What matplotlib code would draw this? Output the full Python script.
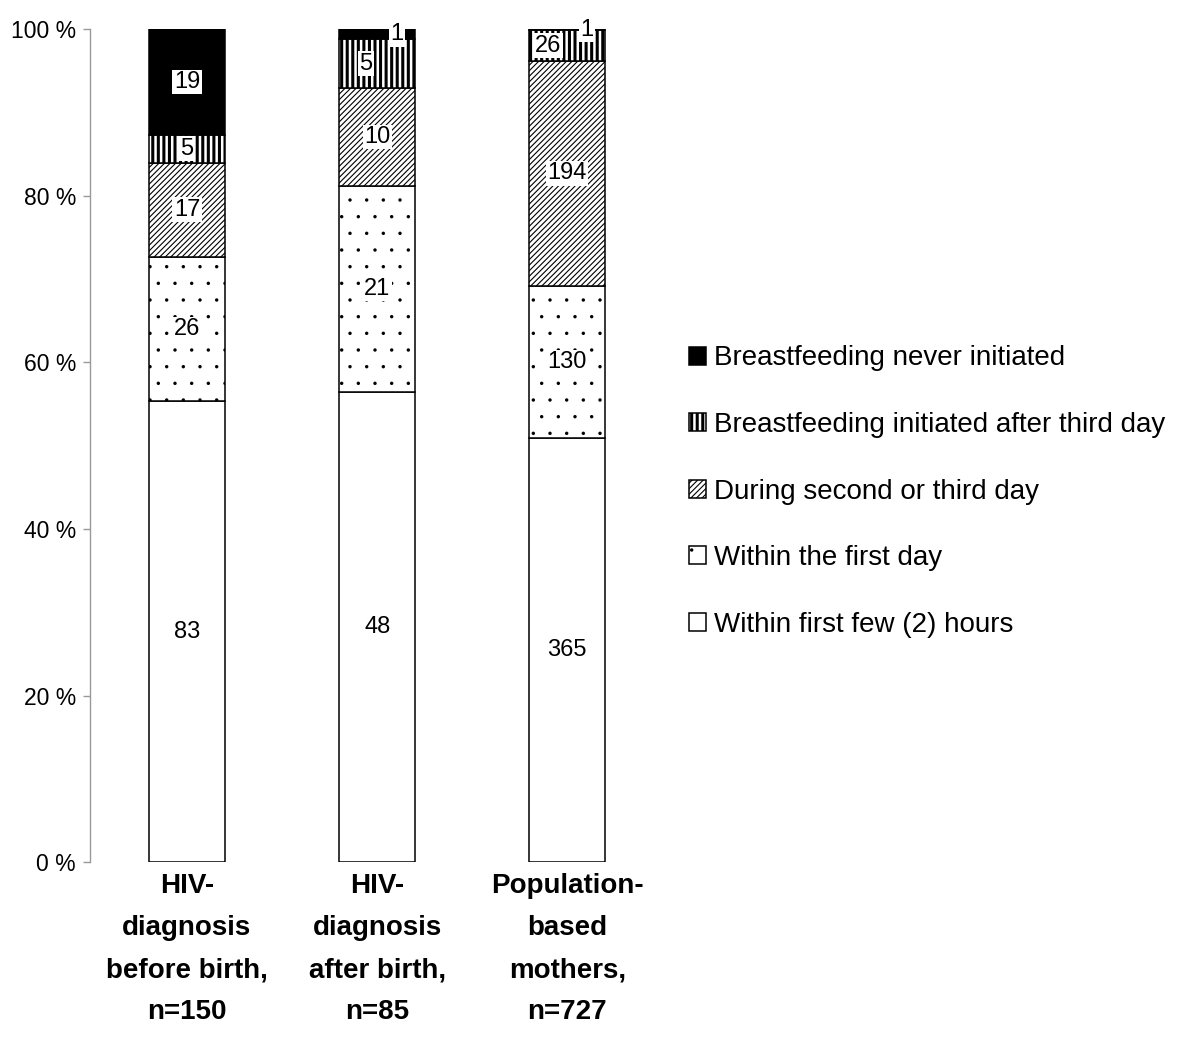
import matplotlib
matplotlib.use("Agg")
import numpy as np
import matplotlib.pyplot as plt
from matplotlib.patches import Patch

plt.rcParams["font.family"] = ["Liberation Sans", "DejaVu Sans"]
plt.rcParams["hatch.linewidth"] = 1.0

# --------------------------------------------------------------------------
# Data (counts per group, bottom segment first)
# --------------------------------------------------------------------------
groups = [
    "HIV-\ndiagnosis\nbefore birth,\nn=150",
    "HIV-\ndiagnosis\nafter birth,\nn=85",
    "Population-\nbased\nmothers,\nn=727",
]
categories = [
    "Within first few (2) hours",
    "Within the first day",
    "During second or third day",
    "Breastfeeding initiated after third day",
    "Breastfeeding never initiated",
]
first_hours = [83, 48, 365]
first_day = [26, 21, 130]
second_third = [17, 10, 194]
after_third = [5, 5, 26]
never = [19, 1, 1]

series = [first_hours, first_day, second_third, after_third, never]

# styles: (facecolor, hatch, hatch linewidth)
styles = [
    ("white", "", 1.0),
    ("white", ".", 0.05),
    ("white", "//////", 0.8),
    ("white", "|||", 2.2),
    ("black", "", 1.0),
]

# small label nudges (x offset in bar units) where Excel shifted labels
nudges = {(1, 3): -0.06, (1, 4): 0.105, (2, 3): -0.10, (2, 4): 0.105}

counts = np.array(series, dtype=float)
pct = counts / counts.sum(axis=0) * 100

fig = plt.figure(figsize=(12, 10.45), dpi=100)
ax = fig.add_axes([0.075, 0.175, 0.477, 0.797])

x = np.arange(len(groups))
width = 0.4
bottom = np.zeros(len(groups))
for si, vals in enumerate(pct):
    fc, hatch, hlw = styles[si]
    bars = ax.bar(x, vals, width, bottom=bottom, color=fc, edgecolor="black",
                  linewidth=1.1, hatch=hatch, zorder=2)
    for b in bars:
        try:
            b.set_hatch_linewidth(hlw)
        except AttributeError:
            pass
    for gi in range(len(groups)):
        cx = x[gi] + nudges.get((gi, si), 0.0)
        cy = bottom[gi] + vals[gi] / 2
        ax.text(cx, cy, f"{int(counts[si, gi])}", ha="center", va="center",
                fontsize=17, color="black", zorder=5,
                bbox=dict(facecolor="white", edgecolor="none", pad=1.0))
    bottom += vals

ax.set_xlim(-0.51, 2.5)
ax.set_ylim(0, 100)
ax.set_yticks(np.arange(0, 101, 20))
ax.set_yticklabels([f"{v} %" for v in range(0, 101, 20)], fontsize=16.5)
ax.set_xticks(x)
ax.set_xticklabels(groups, fontsize=20, fontweight="bold", linespacing=1.8)
ax.tick_params(axis="x", length=0, pad=8)
ax.tick_params(axis="y", length=5, width=1, color="#999999", pad=5)

for s in ["top", "right", "bottom"]:
    ax.spines[s].set_visible(False)
ax.spines["left"].set_color("#999999")
ax.spines["left"].set_linewidth(1.0)

handles = []
for si in reversed(range(len(categories))):
    fc, hatch, hlw = styles[si]
    h = Patch(facecolor=fc, edgecolor="black", hatch=hatch,
              linewidth=1.1, label=categories[si])
    handles.append(h)
leg = fig.legend(handles=handles, loc="center left",
                 bbox_to_anchor=(0.574, 0.5296), frameon=False, fontsize=20,
                 handlelength=0.62, handleheight=0.62, handletextpad=0.3,
                 labelspacing=1.46, borderpad=0, borderaxespad=0)
for p, si in zip(leg.get_patches(), reversed(range(len(categories)))):
    try:
        p.set_hatch_linewidth(styles[si][2])
    except AttributeError:
        pass

fig.savefig("out.png", dpi=100)
